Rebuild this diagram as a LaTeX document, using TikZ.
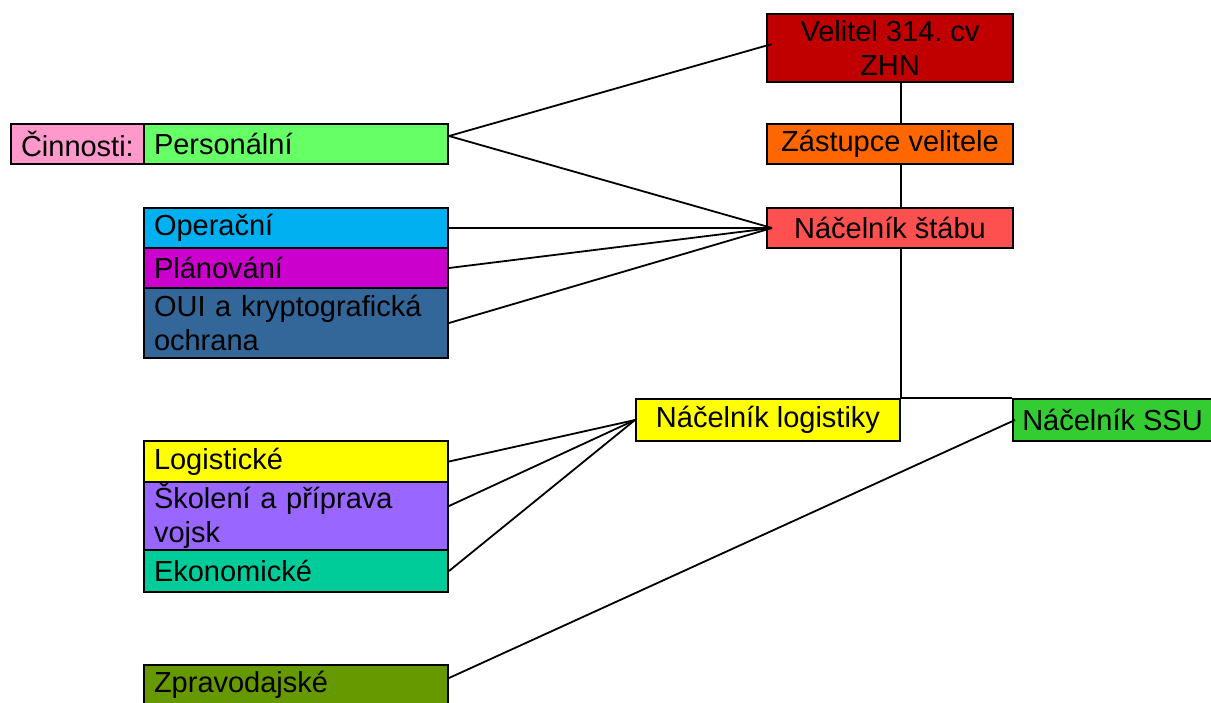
\documentclass[tikz,border=0pt]{standalone}
\usepackage{fontspec}
\setmainfont{Liberation Sans}

\definecolor{cinnpink}{HTML}{FF99CC}
\definecolor{persgreen}{HTML}{66FF66}
\definecolor{operblue}{HTML}{00B0F0}
\definecolor{planmag}{HTML}{CC00CC}
\definecolor{ouiblue}{HTML}{336699}
\definecolor{logyellow}{HTML}{FFFF00}
\definecolor{skolviolet}{HTML}{9966FF}
\definecolor{ekonteal}{HTML}{00CC99}
\definecolor{zpravolive}{HTML}{669900}
\definecolor{veldark}{HTML}{C00000}
\definecolor{zastorange}{HTML}{FF6600}
\definecolor{stabred}{HTML}{FF5050}
\definecolor{ssugreen}{HTML}{33CC33}

\tikzset{
  box/.style={draw, line width=2pt, anchor=north west, inner ysep=0pt,
    inner xsep=10pt, font=\fontsize{29}{34}\selectfont},
  lbox/.style={box, align=left},
  rbox/.style={box, align=center},
  link/.style={line width=1.8pt}
}

\begin{document}
\begin{tikzpicture}[x=1pt, y=-1pt]
\useasboundingbox (0,0) rectangle (1211,702);
\clip (0,0) rectangle (1211,702);

% left column: activities
\node[lbox, fill=cinnpink, minimum width=133pt, minimum height=40pt, text width=113pt] (cinn) at (10,123) {Činnosti:};
\node[lbox, fill=persgreen, minimum width=304pt, minimum height=40pt, text width=284pt] (pers) at (143,123) {Personální};
\node[lbox, fill=operblue, minimum width=304pt, minimum height=40pt, text width=284pt] (oper) at (143,207) {Operační};
\node[lbox, fill=planmag, minimum width=304pt, minimum height=40pt, text width=284pt] (plan) at (143,247) {Plánování};
\node[lbox, fill=ouiblue, minimum width=304pt, minimum height=70pt, text width=284pt] (oui) at (143,287) {OUI a kryptografická\\ochrana};
\node[lbox, fill=logyellow, minimum width=304pt, minimum height=41pt, text width=284pt] (logi) at (143,440) {Logistické};
\node[lbox, fill=skolviolet, minimum width=304pt, minimum height=68pt, text width=284pt] (skol) at (143,481) {Školení a příprava\\vojsk};
\node[lbox, fill=ekonteal, minimum width=304pt, minimum height=42pt, text width=284pt] (ekon) at (143,549) {Ekonomické};
\node[lbox, fill=zpravolive, minimum width=304pt, minimum height=40pt, text width=284pt] (zprav) at (143,664) {Zpravodajské};

% right column: command
\node[rbox, fill=veldark, minimum width=246pt, minimum height=68pt] (velitel) at (766,13) {Velitel 314.\ cv\\ZHN};
\node[rbox, fill=zastorange, minimum width=246pt, minimum height=40pt] (zast) at (766,123) {Zástupce velitele};
\node[rbox, fill=stabred, minimum width=246pt, minimum height=40pt] (stab) at (766,207) {Náčelník štábu};
\node[rbox, fill=logyellow, minimum width=264pt, minimum height=42pt] (nlog) at (635,398) {Náčelník logistiky};
\node[rbox, fill=ssugreen, minimum width=199pt, minimum height=42pt, inner xsep=4pt] (ssu) at (1012,398) {Náčelník SSU};

% chain of command
\draw[link] (velitel.south -| nlog.north east) -- (zast.north -| nlog.north east);
\draw[link] (zast.south -| nlog.north east) -- (stab.north -| nlog.north east);
\draw[link] (stab.south -| nlog.north east) -- (nlog.north east) -- (ssu.north west);

% activities to chiefs
\draw[link] ([yshift=8pt]pers.east) -- ([xshift=6pt,yshift=4pt]velitel.west);
\draw[link] ([yshift=8pt]pers.east) -- ([xshift=6pt]stab.west);
\draw[link] (oper.east) -- ([xshift=6pt]stab.west);
\draw[link] (plan.east) -- ([xshift=6pt]stab.west);
\draw[link] (oui.east) -- ([xshift=6pt]stab.west);
\draw[link] (logi.east) -- (nlog.west);
\draw[link] ([yshift=10pt]skol.east) -- (nlog.west);
\draw[link] (ekon.east) -- (nlog.west);
\draw[link] ([yshift=7pt]zprav.east) -- ([xshift=3pt]ssu.west);
\end{tikzpicture}
\end{document}
